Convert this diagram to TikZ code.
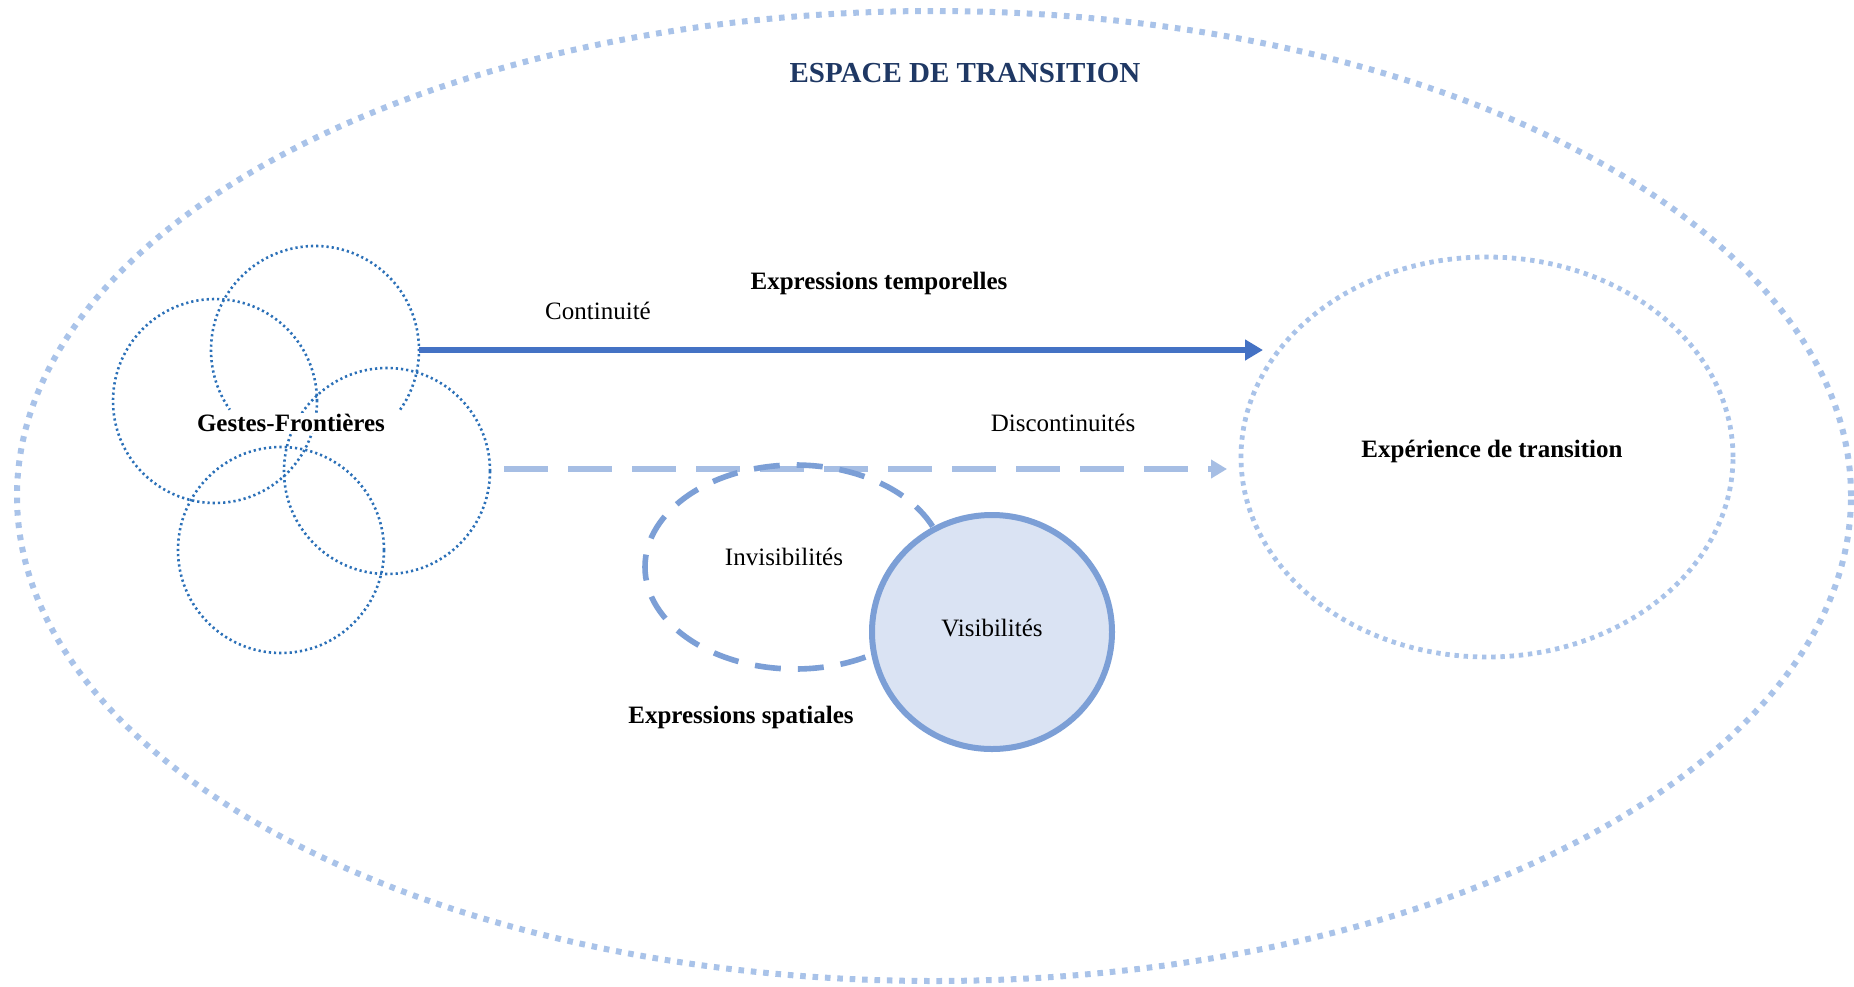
\documentclass[tikz,border=0pt]{standalone}
\usepackage{fontspec}
\setmainfont{Liberation Serif}
\usepackage{xcolor}
\usepackage{tikz}
\usetikzlibrary{positioning, arrows.meta, shapes.geometric}
\definecolor{navy}{HTML}{1F3864}
\definecolor{dotblue}{HTML}{A9C3E9}
\definecolor{gestblue}{HTML}{2B70B8}
\definecolor{arrblue}{HTML}{4472C4}
\definecolor{paleblue}{HTML}{A6BEE4}
\definecolor{midblue}{HTML}{7C9FD6}
\definecolor{fillblue}{HTML}{DAE3F3}

\begin{document}
\begin{tikzpicture}[
  x=0.5pt, y=-0.5pt,
  every node/.style={font=\fontsize{12.5}{15}\selectfont, inner sep=1pt},
  outer/.style={
    ellipse, draw=dotblue, line width=3pt,
    dash pattern=on 2.8pt off 3.4pt, inner sep=0pt, outer sep=0pt
  },
  zone/.style={
    ellipse, draw=dotblue, line width=2.4pt,
    dash pattern=on 2.2pt off 2.4pt, inner sep=0pt, outer sep=0pt
  },
  geste/.style={
    circle, draw=gestblue, line width=1.3pt,
    dash pattern=on 1.1pt off 1.5pt, inner sep=0pt, outer sep=0pt,
    minimum size=#1
  },
  gestline/.style={draw=gestblue, line width=1.3pt, dash pattern=on 1.1pt off 1.5pt},
  contarr/.style={-{Triangle[length=9pt, width=10pt]}, line width=2.8pt, color=arrblue},
  discarr/.style={-{Triangle[length=8pt, width=9pt]}, line width=3pt, color=paleblue,
    dash pattern=on 22pt off 10pt},
  invis/.style={
    ellipse, draw=midblue, line width=2.8pt, dash pattern=on 13pt off 8.5pt,
    inner sep=0pt, outer sep=0pt
  },
  vis/.style={
    ellipse, draw=midblue, fill=fillblue, line width=3pt,
    inner sep=0pt, outer sep=0pt
  },
  bold/.style={font=\fontsize{12.5}{15}\selectfont\bfseries},
]

\path[use as bounding box, fill=white] (0,0) rectangle (1854,986);

% Espace de transition
\node[outer, minimum width=917pt, minimum height=485pt] (space) at (934,496) {};
\node[font=\fontsize{14.5}{17}\selectfont\bfseries, text=navy] (title) at (965,73)
  {ESPACE DE TRANSITION};

% Experience de transition
\node[zone, minimum width=246pt, minimum height=200pt] (exp) at (1487,457) {};
\node[bold] (expLbl) at (1492,451) {Expérience de transition};

% Gestes-Frontieres
\node[geste=104pt, draw=none] (gA) at (315,350) {};
\node[geste=102pt] (gB) at (215,401) {};
\node[geste=103pt] (gC) at (387,471) {};
\node[geste=103pt] (gD) at (281,550) {};
\draw[gestline] (gA.-35) arc[start angle=-35, end angle=215, radius=52pt];
\node[bold, fill=white, inner sep=0.5pt] (gLbl) at (291,423) {Gestes-Frontières};

% Arrows
\coordinate (contEnd) at (1263,350);
\coordinate (discEnd) at (1227,469);
\draw[contarr] (gA.east) -- (contEnd);
\draw[discarr] ([xshift=7pt, yshift=1pt]gC.east) -- (discEnd);

% Labels
\node[bold] (tempo) at (879,283) {Expressions temporelles};
\node (cont) at (598,311) {Continuité};
\node (disc) at (1063,423) {Discontinuités};

% Invisibilites / Visibilites
\node[invis, minimum width=150pt, minimum height=102pt] (invis) at (795,567) {};
\node (invLbl) at (784,557) {Invisibilités};
\node[vis, minimum width=120pt, minimum height=117pt] (vis) at (992,632) {};
\node (visLbl) at (992,628) {Visibilités};
\node[bold] (spat) at (741,717) {Expressions spatiales};

\end{tikzpicture}
\end{document}
